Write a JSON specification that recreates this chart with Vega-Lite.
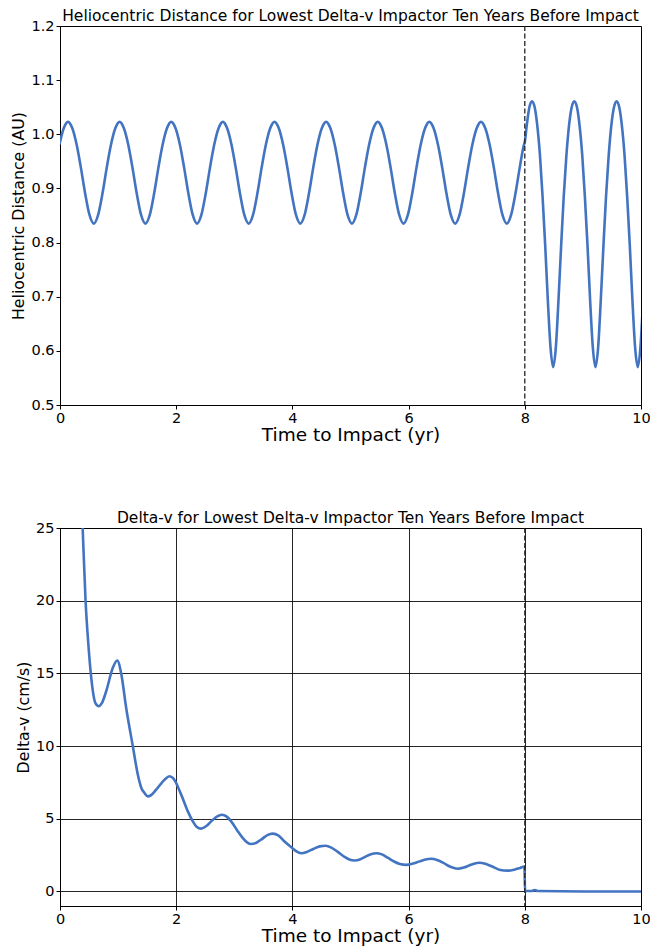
{
  "$schema": "https://vega.github.io/schema/vega-lite/v6.json",
  "padding": {"left": 10, "top": 8, "right": 0, "bottom": 0},
  "spacing": 65,
  "config": {
    "font": "DejaVu Sans",
    "view": {"stroke": "#000", "strokeWidth": 1},
    "axis": {"domainColor": "#000", "tickColor": "#000", "labelColor": "#000", "titleColor": "#000", "labelFontSize": 14.5, "titleFontSize": 18.5, "titleFontWeight": "normal", "tickSize": 4, "labelPadding": 2, "titlePadding": 1, "grid": false, "labelFlush": false},
    "axisY": {"titleFontSize": 15.8, "titlePadding": 4},
    "title": {"fontSize": 15.5, "fontWeight": "normal", "offset": -6, "color": "#000"}
  },
  "datasets": {
    "helio": [
      {"t": -0.010, "r": 0.981}, {"t": 0.064, "r": 1.011}, {"t": 0.138, "r": 1.023}, {"t": 0.212, "r": 1.011}, {"t": 0.286, "r": 0.981}, {"t": 0.360, "r": 0.938}, {"t": 0.434, "r": 0.890}, {"t": 0.508, "r": 0.851},
      {"t": 0.582, "r": 0.835}, {"t": 0.656, "r": 0.851}, {"t": 0.730, "r": 0.890}, {"t": 0.804, "r": 0.938}, {"t": 0.878, "r": 0.981}, {"t": 0.952, "r": 1.011}, {"t": 1.026, "r": 1.023}, {"t": 1.100, "r": 1.011}, {"t": 1.174, "r": 0.981}, {"t": 1.248, "r": 0.938}, {"t": 1.322, "r": 0.890}, {"t": 1.396, "r": 0.851},
      {"t": 1.471, "r": 0.835}, {"t": 1.545, "r": 0.851}, {"t": 1.619, "r": 0.890}, {"t": 1.693, "r": 0.938}, {"t": 1.767, "r": 0.981}, {"t": 1.841, "r": 1.011}, {"t": 1.915, "r": 1.023}, {"t": 1.989, "r": 1.011}, {"t": 2.063, "r": 0.981}, {"t": 2.137, "r": 0.938}, {"t": 2.211, "r": 0.890}, {"t": 2.285, "r": 0.851},
      {"t": 2.359, "r": 0.835}, {"t": 2.433, "r": 0.851}, {"t": 2.507, "r": 0.890}, {"t": 2.581, "r": 0.938}, {"t": 2.655, "r": 0.981}, {"t": 2.729, "r": 1.011}, {"t": 2.803, "r": 1.023}, {"t": 2.877, "r": 1.011}, {"t": 2.951, "r": 0.981}, {"t": 3.025, "r": 0.938}, {"t": 3.099, "r": 0.890}, {"t": 3.173, "r": 0.851},
      {"t": 3.248, "r": 0.835}, {"t": 3.322, "r": 0.851}, {"t": 3.396, "r": 0.890}, {"t": 3.470, "r": 0.938}, {"t": 3.544, "r": 0.981}, {"t": 3.618, "r": 1.011}, {"t": 3.692, "r": 1.023}, {"t": 3.766, "r": 1.011}, {"t": 3.840, "r": 0.981}, {"t": 3.914, "r": 0.938}, {"t": 3.988, "r": 0.890}, {"t": 4.062, "r": 0.851},
      {"t": 4.136, "r": 0.835}, {"t": 4.210, "r": 0.851}, {"t": 4.284, "r": 0.890}, {"t": 4.358, "r": 0.938}, {"t": 4.432, "r": 0.981}, {"t": 4.506, "r": 1.011}, {"t": 4.580, "r": 1.023}, {"t": 4.654, "r": 1.011}, {"t": 4.728, "r": 0.981}, {"t": 4.802, "r": 0.938}, {"t": 4.876, "r": 0.890}, {"t": 4.950, "r": 0.851},
      {"t": 5.025, "r": 0.835}, {"t": 5.099, "r": 0.851}, {"t": 5.173, "r": 0.890}, {"t": 5.247, "r": 0.938}, {"t": 5.321, "r": 0.981}, {"t": 5.395, "r": 1.011}, {"t": 5.469, "r": 1.023}, {"t": 5.543, "r": 1.011}, {"t": 5.617, "r": 0.981}, {"t": 5.691, "r": 0.938}, {"t": 5.765, "r": 0.890}, {"t": 5.839, "r": 0.851},
      {"t": 5.913, "r": 0.835}, {"t": 5.987, "r": 0.851}, {"t": 6.061, "r": 0.890}, {"t": 6.135, "r": 0.938}, {"t": 6.209, "r": 0.981}, {"t": 6.283, "r": 1.011}, {"t": 6.357, "r": 1.023}, {"t": 6.431, "r": 1.011}, {"t": 6.505, "r": 0.981}, {"t": 6.579, "r": 0.938}, {"t": 6.653, "r": 0.890}, {"t": 6.727, "r": 0.851},
      {"t": 6.802, "r": 0.835}, {"t": 6.876, "r": 0.851}, {"t": 6.950, "r": 0.890}, {"t": 7.024, "r": 0.938}, {"t": 7.098, "r": 0.981}, {"t": 7.172, "r": 1.011}, {"t": 7.246, "r": 1.023}, {"t": 7.320, "r": 1.011}, {"t": 7.394, "r": 0.981}, {"t": 7.468, "r": 0.938}, {"t": 7.542, "r": 0.890}, {"t": 7.616, "r": 0.851},
      {"t": 7.690, "r": 0.835}, {"t": 7.764, "r": 0.851}, {"t": 7.838, "r": 0.890}, {"t": 7.912, "r": 0.938}, {"t": 7.986, "r": 0.981},
      {"t": 8.000, "r": 0.986}, {"t": 8.033, "r": 1.016}, {"t": 8.079, "r": 1.050}, {"t": 8.124, "r": 1.061},
      {"t": 8.170, "r": 1.050}, {"t": 8.215, "r": 1.016}, {"t": 8.261, "r": 0.961}, {"t": 8.306, "r": 0.885}, {"t": 8.352, "r": 0.793}, {"t": 8.397, "r": 0.692}, {"t": 8.443, "r": 0.606}, {"t": 8.488, "r": 0.570},
      {"t": 8.534, "r": 0.606}, {"t": 8.579, "r": 0.692}, {"t": 8.625, "r": 0.793}, {"t": 8.670, "r": 0.885}, {"t": 8.716, "r": 0.961}, {"t": 8.761, "r": 1.016}, {"t": 8.807, "r": 1.050}, {"t": 8.852, "r": 1.061},
      {"t": 8.898, "r": 1.050}, {"t": 8.943, "r": 1.016}, {"t": 8.989, "r": 0.961}, {"t": 9.034, "r": 0.885}, {"t": 9.080, "r": 0.793}, {"t": 9.125, "r": 0.692}, {"t": 9.171, "r": 0.606}, {"t": 9.216, "r": 0.570},
      {"t": 9.262, "r": 0.606}, {"t": 9.307, "r": 0.692}, {"t": 9.353, "r": 0.793}, {"t": 9.398, "r": 0.885}, {"t": 9.444, "r": 0.961}, {"t": 9.489, "r": 1.016}, {"t": 9.535, "r": 1.050}, {"t": 9.580, "r": 1.061},
      {"t": 9.626, "r": 1.050}, {"t": 9.671, "r": 1.016}, {"t": 9.717, "r": 0.961}, {"t": 9.762, "r": 0.885}, {"t": 9.808, "r": 0.793}, {"t": 9.853, "r": 0.692}, {"t": 9.899, "r": 0.606}, {"t": 9.944, "r": 0.570},
      {"t": 9.990, "r": 0.606}, {"t": 10.035, "r": 0.692}
    ],
    "dv": [
      {"t": 0.33, "v": 31.0}, {"t": 0.39, "v": 25.0}, {"t": 0.44, "v": 20.0}, {"t": 0.49, "v": 16.9}, {"t": 0.53, "v": 15.0}, {"t": 0.565, "v": 13.8}, {"t": 0.61, "v": 12.95}, {"t": 0.668, "v": 12.74}, {"t": 0.72, "v": 12.95}, {"t": 0.795, "v": 13.77}, {"t": 0.909, "v": 15.38}, {"t": 0.985, "v": 15.89},
      {"t": 1.053, "v": 15.0}, {"t": 1.14, "v": 12.6}, {"t": 1.253, "v": 10.0}, {"t": 1.34, "v": 8.03}, {"t": 1.40, "v": 7.12}, {"t": 1.455, "v": 6.77}, {"t": 1.511, "v": 6.54}, {"t": 1.56, "v": 6.6}, {"t": 1.655, "v": 7.0}, {"t": 1.80, "v": 7.69}, {"t": 1.885, "v": 7.92}, {"t": 1.954, "v": 7.76},
      {"t": 2.086, "v": 6.66}, {"t": 2.2, "v": 5.51}, {"t": 2.286, "v": 4.82}, {"t": 2.35, "v": 4.45}, {"t": 2.43, "v": 4.32}, {"t": 2.52, "v": 4.5}, {"t": 2.602, "v": 4.82}, {"t": 2.70, "v": 5.15}, {"t": 2.786, "v": 5.28}, {"t": 2.87, "v": 5.15}, {"t": 2.946, "v": 4.82},
      {"t": 3.05, "v": 4.2}, {"t": 3.147, "v": 3.67}, {"t": 3.22, "v": 3.38}, {"t": 3.29, "v": 3.26}, {"t": 3.38, "v": 3.35}, {"t": 3.48, "v": 3.62}, {"t": 3.57, "v": 3.88}, {"t": 3.663, "v": 3.98}, {"t": 3.76, "v": 3.85}, {"t": 3.86, "v": 3.45},
      {"t": 4.0, "v": 2.98}, {"t": 4.07, "v": 2.75}, {"t": 4.151, "v": 2.63}, {"t": 4.25, "v": 2.72}, {"t": 4.36, "v": 2.92}, {"t": 4.47, "v": 3.10}, {"t": 4.571, "v": 3.14}, {"t": 4.67, "v": 3.02}, {"t": 4.78, "v": 2.72}, {"t": 4.89, "v": 2.40}, {"t": 4.98, "v": 2.2},
      {"t": 5.07, "v": 2.13}, {"t": 5.16, "v": 2.2}, {"t": 5.25, "v": 2.38}, {"t": 5.35, "v": 2.56}, {"t": 5.443, "v": 2.63}, {"t": 5.54, "v": 2.55}, {"t": 5.64, "v": 2.32}, {"t": 5.75, "v": 2.06}, {"t": 5.85, "v": 1.89}, {"t": 5.96, "v": 1.83},
      {"t": 6.06, "v": 1.9}, {"t": 6.19, "v": 2.07}, {"t": 6.29, "v": 2.2}, {"t": 6.39, "v": 2.25}, {"t": 6.49, "v": 2.17}, {"t": 6.6, "v": 1.96}, {"t": 6.72, "v": 1.7}, {"t": 6.847, "v": 1.56}, {"t": 6.95, "v": 1.64},
      {"t": 7.05, "v": 1.8}, {"t": 7.14, "v": 1.93}, {"t": 7.22, "v": 1.97}, {"t": 7.32, "v": 1.9}, {"t": 7.43, "v": 1.73}, {"t": 7.56, "v": 1.5}, {"t": 7.71, "v": 1.43}, {"t": 7.82, "v": 1.5}, {"t": 7.92, "v": 1.62}, {"t": 7.995, "v": 1.72},
      {"t": 8.003, "v": 0.03}, {"t": 8.12, "v": 0.03}, {"t": 8.17, "v": 0.1}, {"t": 8.22, "v": 0.03}, {"t": 9.0, "v": 0.0}, {"t": 10.0, "v": 0.0}
    ]
  },
  "vconcat": [
    {
      "width": 581,
      "height": 379,
      "title": "Heliocentric Distance for Lowest Delta-v Impactor Ten Years Before Impact",
      "layer": [
        {
          "data": {"name": "helio"},
          "mark": {"type": "line", "interpolate": "monotone", "clip": true, "color": "#4374c1", "strokeWidth": 2.6},
          "encoding": {
            "x": {"field": "t", "type": "quantitative", "scale": {"domain": [0, 10], "nice": false}, "axis": {"values": [0, 2, 4, 6, 8, 10], "format": "d", "title": "Time to Impact (yr)"}},
            "y": {"field": "r", "type": "quantitative", "scale": {"domain": [0.5, 1.2], "nice": false, "zero": false}, "axis": {"values": [0.5, 0.6, 0.7, 0.8, 0.9, 1.0, 1.1, 1.2], "format": ".1f", "title": "Heliocentric Distance (AU)"}}
          }
        },
        {
          "data": {"values": [{"t": 8}]},
          "mark": {"type": "rule", "strokeDash": [5, 2.5], "color": "#222", "strokeWidth": 1.3},
          "encoding": {"x": {"field": "t", "type": "quantitative"}}
        }
      ]
    },
    {
      "width": 581,
      "height": 378,
      "title": "Delta-v for Lowest Delta-v Impactor Ten Years Before Impact",
      "layer": [
        {
          "data": {"name": "dv"},
          "mark": {"type": "line", "interpolate": "monotone", "clip": true, "color": "#4374c1", "strokeWidth": 2.6},
          "encoding": {
            "x": {"field": "t", "type": "quantitative", "scale": {"domain": [0, 10], "nice": false}, "axis": {"values": [0, 2, 4, 6, 8, 10], "format": "d", "title": "Time to Impact (yr)", "grid": true, "gridColor": "#000", "gridOpacity": 0.85, "gridWidth": 1}},
            "y": {"field": "v", "type": "quantitative", "scale": {"domain": [-1, 25], "nice": false, "zero": false}, "axis": {"values": [0, 5, 10, 15, 20, 25], "format": "d", "title": "Delta-v (cm/s)", "grid": true, "gridColor": "#000", "gridOpacity": 0.85, "gridWidth": 1}}
          }
        },
        {
          "data": {"values": [{"t": 8}]},
          "mark": {"type": "rule", "strokeDash": [5, 2.5], "color": "#222", "strokeWidth": 1.3},
          "encoding": {"x": {"field": "t", "type": "quantitative"}}
        }
      ]
    }
  ]
}
